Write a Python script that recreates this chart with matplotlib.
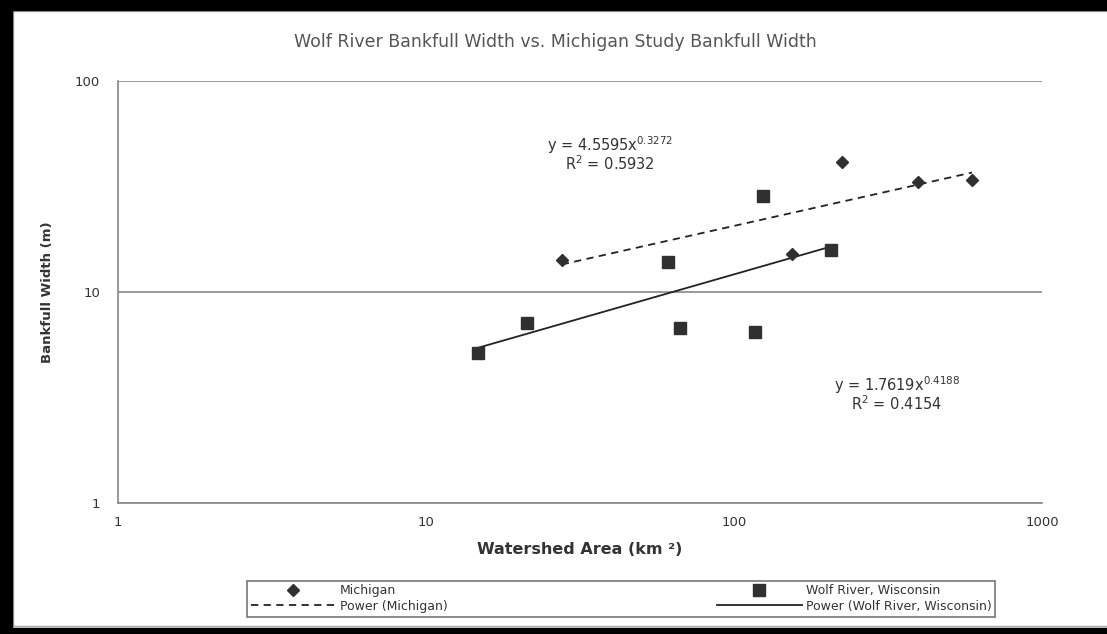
import numpy as np
import matplotlib
matplotlib.use("Agg")
import matplotlib.pyplot as plt
from matplotlib.patches import Rectangle
from matplotlib.ticker import FixedLocator, NullLocator

# Michigan study data (watershed area km2, bankfull width m)
mich_area = [27.6, 154, 224, 396, 593]
mich_width = [14.2, 15.1, 41.3, 33.2, 34.0]

# Wolf River, Wisconsin data
wolf_area = [14.8, 21.3, 61.1, 66.8, 117, 124, 206]
wolf_width = [5.14, 7.13, 13.9, 6.75, 6.46, 28.5, 15.8]

# power trendlines as shown on the chart
mich_coef, mich_exp, mich_r2 = 4.5595, 0.3272, 0.5932
wolf_coef, wolf_exp, wolf_r2 = 1.7619, 0.4188, 0.4154

x_ticks = [1, 10, 100, 1000]
y_ticks = [1, 10, 100]

W, H = 1107, 634
fig = plt.figure(figsize=(W / 100, H / 100), dpi=100)
fig.patch.set_facecolor("white")

# black frame of the screenshot
fig.patches.append(Rectangle((0, 0), 12/W, 1, transform=fig.transFigure, color="black", zorder=10))
fig.patches.append(Rectangle((0, 1 - 10/H), 1, 10/H, transform=fig.transFigure, color="black", zorder=10))
fig.patches.append(Rectangle((0, 0), 1, 6/H, transform=fig.transFigure, color="black", zorder=10))
# thin grey chart border
fig.patches.append(Rectangle((13/W, 8/H), 1, 1 - 19/H, transform=fig.transFigure,
                             fill=False, edgecolor="#aaaaaa", lw=1, zorder=9))

ax = fig.add_axes([118/W, 131/H, 924/W, 422/H])
ax.set_xscale("log")
ax.set_yscale("log")
ax.set_xlim(1, 1000)
ax.set_ylim(1, 100)

ax.xaxis.set_major_locator(FixedLocator(x_ticks))
ax.yaxis.set_major_locator(FixedLocator(y_ticks))
ax.xaxis.set_minor_locator(NullLocator())
ax.yaxis.set_minor_locator(NullLocator())
ax.set_xticklabels([str(v) for v in x_ticks])
ax.set_yticklabels([str(v) for v in y_ticks])
ax.tick_params(length=0, labelsize=9.5, colors="#333333")
ax.tick_params(axis="y", pad=13)
ax.tick_params(axis="x", pad=9)

for s in ["top", "right"]:
    ax.spines[s].set_visible(False)
for s in ["left", "bottom"]:
    ax.spines[s].set_color("#888888")
    ax.spines[s].set_linewidth(1.2)
ax.yaxis.grid(True, color="#888888", linewidth=1.2)
ax.set_axisbelow(True)

# trend lines
xm = np.array([min(mich_area), max(mich_area)])
xw = np.array([min(wolf_area), max(wolf_area)])
ax.plot(xm, mich_coef * xm ** mich_exp, "--", color="#222222", lw=1.3,
        dashes=(4, 3), label="Power (Michigan)")
ax.plot(xw, wolf_coef * xw ** wolf_exp, "-", color="#222222", lw=1.3,
        label="Power (Wolf River, Wisconsin)")

ax.plot(mich_area, mich_width, "D", color="#303030", ms=6.5, ls="none", label="Michigan")
ax.plot(wolf_area, wolf_width, "s", color="#303030", ms=8.5, ls="none",
        label="Wolf River, Wisconsin")

ax.set_xlabel("Watershed Area (km ²)", fontsize=11.5, fontweight="bold", color="#333333", labelpad=10)
ax.set_ylabel("Bankfull Width (m)", fontsize=9.5, fontweight="bold", color="#333333", labelpad=15)

fig.text(555/W, 1 - 42/H, "Wolf River Bankfull Width vs. Michigan Study Bankfull Width",
         ha="center", va="center", fontsize=12.5, color="#555555")

ax.text(610/W, 1 - 145/H, "y = %.4fx$^{%.4f}$" % (mich_coef, mich_exp), transform=fig.transFigure,
        ha="center", va="center", fontsize=10.5, color="#333333")
ax.text(610/W, 1 - 164/H, "R$^2$ = %.4f" % mich_r2, transform=fig.transFigure,
        ha="center", va="center", fontsize=10.5, color="#333333")
ax.text(897/W, 1 - 385/H, "y = %.4fx$^{%.4f}$" % (wolf_coef, wolf_exp), transform=fig.transFigure,
        ha="center", va="center", fontsize=10.5, color="#333333")
ax.text(897/W, 1 - 404/H, "R$^2$ = %.4f" % wolf_r2, transform=fig.transFigure,
        ha="center", va="center", fontsize=10.5, color="#333333")

h, l = ax.get_legend_handles_labels()
order = [2, 0, 3, 1]
leg = fig.legend([h[i] for i in order], [l[i] for i in order], ncol=2,
                 loc="center", bbox_to_anchor=(247/W, 17/H, 748/W, 37/H),
                 mode="expand", fontsize=9, frameon=True, fancybox=False,
                 handlelength=6.8, borderpad=0.3, labelspacing=0.2, columnspacing=2,
                 handletextpad=0.3, borderaxespad=0)
leg.get_frame().set_edgecolor("#555555")
leg.get_frame().set_linewidth(1.2)
for t in leg.get_texts():
    t.set_color("#333333")

fig.savefig("out.png", dpi=100)
